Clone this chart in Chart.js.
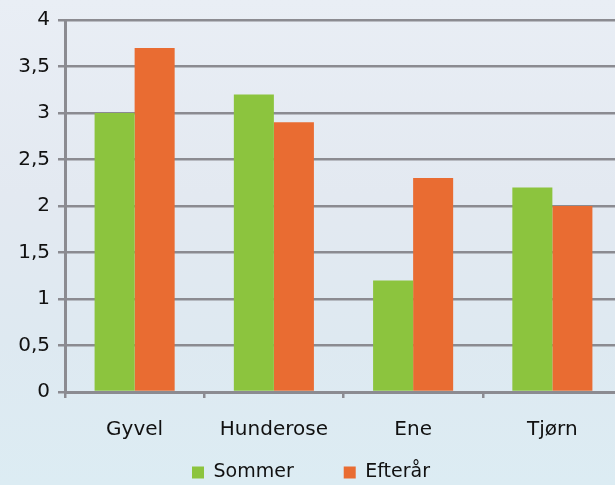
<!DOCTYPE html>
<html><head><meta charset="utf-8">
<script src="https://cdn.jsdelivr.net/npm/chart.js@4"></script>
<style>
html,body{margin:0;padding:0;overflow:hidden;width:615px;height:485px;}
body{background:linear-gradient(180deg,#e9eef5 0%,#e3e9f1 40%,#dee9f1 70%,#dcecf3 100%);}
#wrap{position:absolute;left:0;top:0;width:625px;height:485px;}
</style></head><body>
<div id="wrap"><canvas id="c"></canvas></div>
<script>
const categories = ["Gyvel","Hunderose","Ene","Tjørn"];
const sommer = [3.0, 3.2, 1.2, 2.2];
const efterar = [3.7, 2.9, 2.3, 2.0];
const seriesNames = ["Sommer","Efterår"];
const yTicks = [0,0.5,1,1.5,2,2.5,3,3.5,4];

const axisGray = '#8b8b91';
Chart.defaults.font.family = '"DejaVu Sans", sans-serif';
Chart.defaults.color = '#111';
new Chart(document.getElementById('c'), {
  type: 'bar',
  data: {
    labels: categories,
    datasets: [
      {label: seriesNames[0], data: sommer, backgroundColor: '#8cc43e', borderWidth: 0},
      {label: seriesNames[1], data: efterar, backgroundColor: '#e96c32', borderWidth: 0}
    ]
  },
  options: {
    responsive: true, maintainAspectRatio: false, animation: false,
    layout: {padding: {top: 20, right: 3, left: 0, bottom: -7}},
    datasets: {bar: {categoryPercentage: 0.575, barPercentage: 1.0}},
    plugins: {
      tooltip: {enabled: false},
      legend: {
        position: 'bottom',
        labels: {boxWidth: 12, boxHeight: 12, padding: 50, font: {size: 19}, color: '#111'}
      }
    },
    scales: {
      y: {
        min: 0, max: 4,
        afterFit: s => { s.width = 65; },
        afterBuildTicks: s => { s.ticks = yTicks.map(v => ({value: v})); },
        ticks: {font: {size: 20}, color: '#111', padding: 8,
          callback: v => String(v).replace('.', ',')},
        grid: {color: axisGray, lineWidth: 2.5, tickLength: 7},
        border: {color: axisGray, width: 3}
      },
      x: {
        afterFit: s => { s.height = 21; s._computeLabelArea = () => undefined; },
        ticks: {font: {size: 20}, color: '#111', padding: 20},
        grid: {drawOnChartArea: false, drawTicks: true, tickLength: 6, color: axisGray, lineWidth: 2.5},
        border: {color: axisGray, width: 3}
      }
    }
  }
});
</script>
</body></html>
